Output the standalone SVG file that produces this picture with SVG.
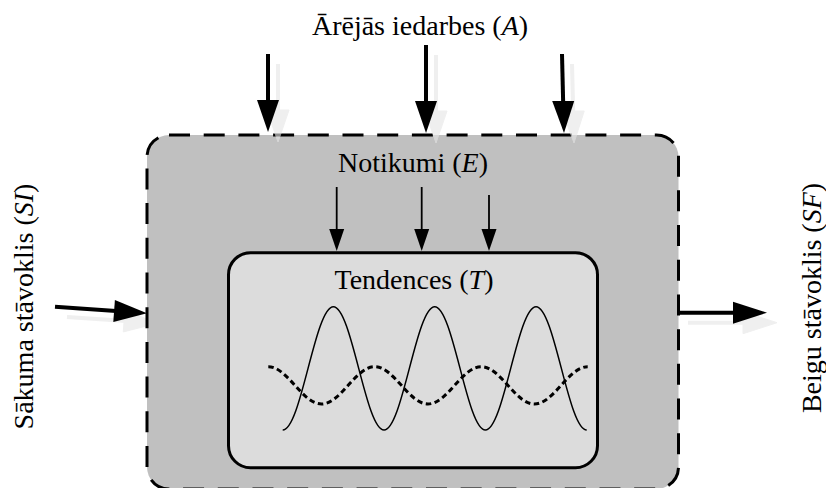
<svg xmlns="http://www.w3.org/2000/svg" width="826" height="488" viewBox="0 0 826 488">
<style>
  .lbl { font-family: "Liberation Serif", "Times New Roman", serif; font-size: 28px; fill: #000; }
  .shadow { fill: #e6e6e6; stroke: #e6e6e6; opacity: 0.62; }
  .big { stroke: #000; stroke-width: 4; fill: none; }
  .small { stroke: #000; stroke-width: 1.8; fill: none; }
  .head { fill: #000; }
</style>
<rect width="826" height="488" fill="#fff"/>
<!-- left arrow shadow (under box) -->
<g class="shadow">
  <line x1="67" y1="317" x2="126" y2="321" stroke-width="4"/>
  <polygon points="123.3,331.9 124.9,309.9 157,323.3"/>
</g>
<g id="system">
  <rect x="147" y="135" width="531.5" height="354" rx="22" fill="#c0c0c0" stroke="#000" stroke-width="3" stroke-dasharray="21 13.7"/>
</g>
<g id="trends">
  <rect x="228.5" y="252.7" width="369" height="215" rx="22" fill="#dcdcdc" stroke="#000" stroke-width="3"/>
  <path d="M282.7,430 C301.14,430 314.93,306.7 333.37,306.7 S365.59,430 384.03,430 S416.26,306.7 434.7,306.7 S466.93,430 485.37,430 S517.59,306.7 536.03,306.7 S568.26,430 586.7,430" fill="none" stroke="#000" stroke-width="1.5"/>
  <path d="M268.3,366.7 C287.67,366.7 302.16,404 321.53,404 S355.4,366.7 374.77,366.7 S408.63,404 428,404 S461.86,366.7 481.23,366.7 S515.1,404 534.47,404 S568.33,366.7 587.7,366.7" fill="none" stroke="#000" stroke-width="3" stroke-dasharray="5.5 3.5"/>
</g>
<g id="labels">
  <text class="lbl" x="420" y="35" text-anchor="middle">Ārējās iedarbes (<tspan font-style="italic">A</tspan>)</text>
  <text class="lbl" x="413" y="172" text-anchor="middle">Notikumi (<tspan font-style="italic">E</tspan>)</text>
  <text class="lbl" x="414" y="289" text-anchor="middle">Tendences (<tspan font-style="italic">T</tspan>)</text>
  <text class="lbl" transform="translate(33,306.5) rotate(-90)" text-anchor="middle">Sākuma stāvoklis (<tspan font-style="italic">SI</tspan>)</text>
  <text class="lbl" transform="translate(821,298) rotate(-90)" text-anchor="middle">Beigu stāvoklis (<tspan font-style="italic">SF</tspan>)</text>
</g>
<g id="connectors">
  <!-- shadows of top arrows and right arrow -->
  <g class="shadow">
    <line x1="278" y1="64" x2="278" y2="112" stroke-width="4"/>
    <polygon points="267,110 289,110 278,142"/>
    <line x1="436" y1="55" x2="436" y2="113" stroke-width="4"/>
    <polygon points="425,111 447,111 436,143"/>
    <line x1="572" y1="64" x2="573.2" y2="113" stroke-width="4"/>
    <polygon points="562.2,111 584.2,111 574,143"/>
    <line x1="688" y1="322.7" x2="745" y2="322.7" stroke-width="4"/>
    <polygon points="743,311.7 743,333.7 777,322.7"/>
  </g>
  <!-- external influences A -->
  <line class="big" x1="268" y1="54" x2="268" y2="103"/>
  <polygon class="head" points="257,100 279,100 268,132"/>
  <line class="big" x1="426" y1="45" x2="426" y2="104"/>
  <polygon class="head" points="415,101 437,101 426,133"/>
  <line class="big" x1="562" y1="54" x2="563.2" y2="104"/>
  <polygon class="head" points="552.2,101 574.2,101 564,133"/>
  <!-- events E -->
  <line class="small" x1="336.7" y1="187" x2="336.7" y2="232"/>
  <polygon class="head" points="329.2,229 344.2,229 336.7,251"/>
  <line class="small" x1="421.7" y1="187" x2="421.7" y2="232"/>
  <polygon class="head" points="414.2,229 429.2,229 421.7,251"/>
  <line class="small" x1="489" y1="195" x2="489" y2="232"/>
  <polygon class="head" points="481.5,229 496.5,229 489,251"/>
  <!-- initial state -->
  <line class="big" x1="55" y1="306.7" x2="116" y2="311"/>
  <polygon class="head" points="113.3,321.9 114.9,299.9 147,313.3"/>
  <!-- final state -->
  <line class="big" x1="678" y1="312.7" x2="735" y2="312.7"/>
  <polygon class="head" points="733,301.7 733,323.7 767,312.7"/>
</g>
</svg>
